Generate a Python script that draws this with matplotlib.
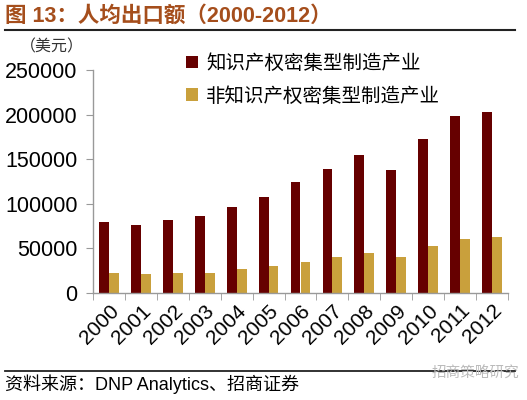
import matplotlib
matplotlib.use("Agg")
import matplotlib.pyplot as plt
from matplotlib.lines import Line2D
import numpy as np

years = ["2000", "2001", "2002", "2003", "2004", "2005", "2006",
         "2007", "2008", "2009", "2010", "2011", "2012"]
ip_intensive = [80000, 76000, 82000, 86000, 96000, 107000, 124000,
                139000, 155000, 137500, 173000, 198000, 203500]
non_ip_intensive = [22500, 21500, 21700, 22500, 26300, 29700, 34000,
                    39800, 44300, 40500, 52500, 60000, 62200]
series_names = ["知识产权密集型制造产业", "非知识产权密集型制造产业"]
yticks = [0, 50000, 100000, 150000, 200000, 250000]

plt.rcParams['font.family'] = ['Liberation Sans', 'Noto Sans CJK SC', 'DejaVu Sans']

fig = plt.figure(figsize=(5.27, 4.0), dpi=100)
ax = fig.add_axes([93/527, (400-292.7)/400, (508-93)/527, (292.7-70.2)/400])

x = np.arange(len(years))
w = 0.31
ax.bar(x - w/2, ip_intensive, width=w, color='#660000', label=series_names[0])
ax.bar(x + w/2, non_ip_intensive, width=w, color='#C9A03C', label=series_names[1])

ax.set_xlim(-0.5, len(years) - 0.5)
ax.set_ylim(0, 250000)
ax.set_yticks(yticks)
ax.set_yticklabels([str(v) for v in yticks], fontsize=15.5)
ax.set_xticks(x)
ax.set_xticklabels(years, rotation=45, ha='right', rotation_mode='anchor', fontsize=15)
ax.set_xticks(np.arange(-0.5, len(years), 1), minor=True)
ax.tick_params(axis='x', which='major', length=0, pad=6)
ax.tick_params(axis='x', which='minor', length=5, color='#999999', direction='out')
ax.tick_params(axis='y', length=5, color='#999999', pad=6)

for s in ['top', 'right']:
    ax.spines[s].set_visible(False)
for s in ['left', 'bottom']:
    ax.spines[s].set_color('#999999')
    ax.spines[s].set_linewidth(1.0)

leg = ax.legend(loc='upper left', bbox_to_anchor=(0.183, 1.15), frameon=False,
                fontsize=14, handlelength=0.6, handleheight=0.6,
                handletextpad=0.4, labelspacing=0.7)

fig.text(5/527, 1 - 16/400, "图 13：人均出口额（2000-2012）", fontsize=15.5, fontweight='bold',
         color='#A54E1C', va='center', ha='left')
fig.add_artist(Line2D([5/527, 515/527], [1 - 30/400, 1 - 30/400], color='#222222', lw=1.5))
fig.text(20/527, 1 - 47/400, "（美元）", fontsize=11.5, va='center', ha='left', color='#333333')

fig.add_artist(Line2D([5/527, 515/527], [1 - 371/400, 1 - 371/400], color='#222222', lw=1.3))
fig.text(5/527, 1 - 384/400, "资料来源：DNP Analytics、招商证券", fontsize=13, va='center', ha='left')
fig.text(519/527, 1 - 374/400, "招商策略研究", fontsize=10.5, va='center', ha='right', color='#BBBBBB')

fig.savefig("out.png", dpi=100)
